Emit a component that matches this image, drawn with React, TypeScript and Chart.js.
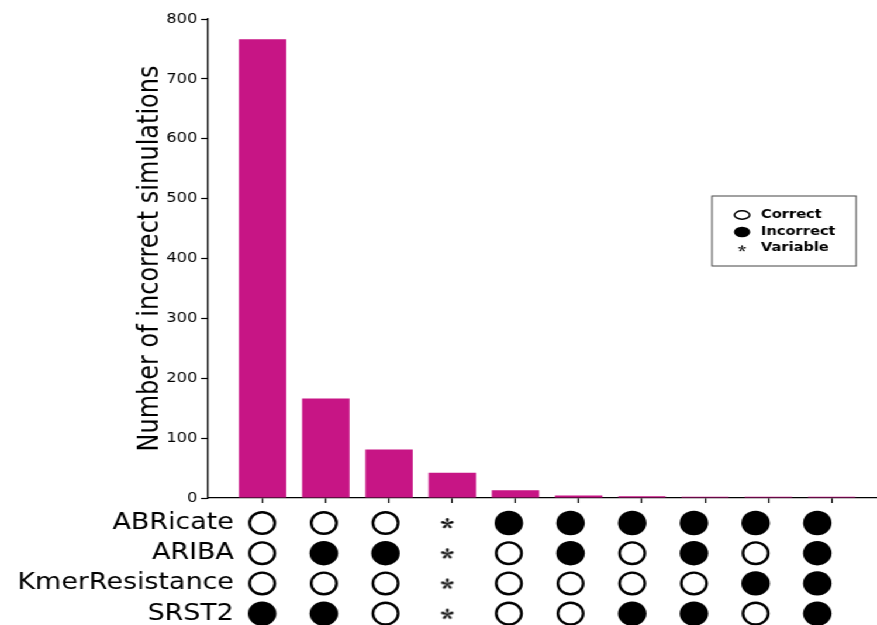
import { useEffect, useRef } from 'react';
import { Chart, registerables } from 'chart.js';

Chart.register(...registerables);

// Incorrect-simulation counts per combination of tool outcomes
const counts = [766, 166, 81, 42, 13, 4, 3, 2, 2, 2];
const yTicks = [0, 100, 200, 300, 400, 500, 600, 700, 800];

// Outcome of each tool per combination: C = correct, I = incorrect, V = variable
const tools = ['ABRicate', 'ARIBA', 'KmerResistance', 'SRST2'];
const abricateCalls = ['C', 'C', 'C', 'V', 'I', 'I', 'I', 'I', 'I', 'I'];
const aribaCalls = ['C', 'I', 'I', 'V', 'C', 'I', 'C', 'I', 'C', 'I'];
const kmerResistanceCalls = ['C', 'C', 'C', 'V', 'C', 'C', 'C', 'C', 'I', 'I'];
const srst2Calls = ['I', 'I', 'C', 'V', 'C', 'C', 'I', 'I', 'C', 'I'];
const keyLabels = ['Correct', 'Incorrect', 'Variable'];
const keyCodes = ['C', 'I', 'V'];

// Drawing surface (rendered narrow, widened with a horizontal scale)
const W = 750;
const H = 625;
const STRETCH = 877 / W;
const FONT = '"DejaVu Sans", "Liberation Sans", sans-serif';

const AXIS_X = 177.9; // y-axis line
const PLOT_BOTTOM = 498;
const X_MIN = -0.863;
const X_MAX = 9.718;
const COL_W = (W - AXIS_X) / (X_MAX - X_MIN);

// Outcome grid below the bars: canvas placement and its plotting band
const GRID_CANVAS_TOP = 470;
const GRID_CANVAS_H = 200;
const GRID_PAD = 30;
const GRID_AREA_H = GRID_CANVAS_H - 2 * GRID_PAD;
const ROW0 = 23; // first row, measured from the top of the plotting band
const ROW_GAP = 30.2;
const GRID_LEFT = 210;
const GRID_X_MIN = X_MIN + (GRID_LEFT - AXIS_X) / COL_W;

// Key box
const KEY_X = 608.9;
const KEY_Y = 196;
const KEY_W = 123.2;
const KEY_H = 70;
const KEY_MARK_X = 634.6;
const KEY_TEXT_X = 650.8;
const KEY_ROWS = [215, 232, 248];

function drawAsterisk(ctx: CanvasRenderingContext2D, cx: number, cy: number, len: number) {
  ctx.save();
  ctx.translate(cx, cy);
  ctx.fillStyle = '#000';
  for (let k = 0; k < 5; k++) {
    const a = -Math.PI / 2 + (k * 2 * Math.PI) / 5;
    ctx.save();
    ctx.rotate(a);
    ctx.beginPath();
    ctx.moveTo(0, 0);
    ctx.quadraticCurveTo(len * 0.35, -len * 0.2, len * 0.72, -len * 0.2);
    ctx.arc(len * 0.72, 0, len * 0.2, -Math.PI / 2, Math.PI / 2);
    ctx.quadraticCurveTo(len * 0.35, len * 0.2, 0, 0);
    ctx.fill();
    ctx.restore();
  }
  ctx.beginPath();
  ctx.arc(0, 0, len * 0.15, 0, Math.PI * 2);
  ctx.fill();
  ctx.restore();
}

function asteriskImage(len: number): HTMLCanvasElement {
  const size = Math.ceil(len * 2 + 4);
  const c = document.createElement('canvas');
  c.width = size;
  c.height = size;
  const g = c.getContext('2d');
  if (g) drawAsterisk(g, size / 2, size / 2 + len * 0.1, len);
  return c;
}

function pointsFor(code: string) {
  const rows = [abricateCalls, aribaCalls, kmerResistanceCalls, srst2Calls];
  const pts: { x: number; y: number }[] = [];
  rows.forEach((row, k) =>
    row.forEach((c, i) => {
      if (c === code) pts.push({ x: i, y: k });
    })
  );
  return pts;
}

const keyPlugin = {
  id: 'outcomeKey',
  afterDraw(chart: Chart) {
    const ctx = chart.ctx;
    ctx.save();
    ctx.fillStyle = '#fff';
    ctx.fillRect(KEY_X, KEY_Y, KEY_W, KEY_H);
    ctx.strokeStyle = '#444';
    ctx.lineWidth = 1;
    ctx.strokeRect(KEY_X, KEY_Y, KEY_W, KEY_H);
    keyLabels.forEach((label, i) => {
      const y = KEY_ROWS[i];
      const code = keyCodes[i];
      if (code === 'C') {
        ctx.beginPath();
        ctx.ellipse(KEY_MARK_X, y, 6.5, 4.2, 0, 0, Math.PI * 2);
        ctx.fillStyle = '#fff';
        ctx.fill();
        ctx.lineWidth = 1.5;
        ctx.strokeStyle = '#000';
        ctx.stroke();
      } else if (code === 'I') {
        ctx.beginPath();
        ctx.ellipse(KEY_MARK_X, y, 7, 5.3, 0, 0, Math.PI * 2);
        ctx.fillStyle = '#000';
        ctx.fill();
      } else {
        drawAsterisk(ctx, KEY_MARK_X, y + 0.5, 3.6);
      }
      ctx.fillStyle = '#000';
      ctx.font = `bold 12.5px ${FONT}`;
      ctx.textAlign = 'left';
      ctx.textBaseline = 'middle';
      ctx.fillText(label, KEY_TEXT_X, y);
    });
    ctx.restore();
  },
};

export default function App() {
  const mainRef = useRef<HTMLCanvasElement>(null);
  const gridRef = useRef<HTMLCanvasElement>(null);

  useEffect(() => {
    if (!mainRef.current || !gridRef.current) return;

    const barChart = new Chart(mainRef.current, {
      type: 'bar',
      data: {
        datasets: [
          {
            label: 'Number of incorrect simulations',
            data: counts.map((v, i) => ({ x: i, y: v })),
            backgroundColor: '#C71585',
            borderWidth: 0,
            barPercentage: 0.75,
            categoryPercentage: 1,
          },
        ],
      },
      options: {
        responsive: false,
        animation: false,
        events: [],
        layout: { padding: { left: 110, top: 19, right: 0, bottom: 0 } },
        plugins: { legend: { display: false }, tooltip: { enabled: false } },
        scales: {
          x: {
            type: 'linear',
            min: X_MIN,
            max: X_MAX,
            offset: false,
            afterBuildTicks: (s: any) => {
              s.ticks = counts.map((_, i) => ({ value: i }));
            },
            afterFit: (s: any) => {
              s.height = H - PLOT_BOTTOM;
            },
            ticks: { display: false },
            grid: {
              display: true,
              offset: false,
              drawOnChartArea: false,
              drawTicks: true,
              tickLength: 5,
              tickColor: '#000',
              tickWidth: 1.2,
              color: '#000',
            },
            border: { display: true, color: '#000', width: 1.3 },
          },
          y: {
            type: 'linear',
            min: 0,
            max: 800,
            afterBuildTicks: (s: any) => {
              s.ticks = yTicks.map((v) => ({ value: v }));
            },
            afterFit: (s: any) => {
              s.width = AXIS_X - 110;
            },
            ticks: { font: { family: FONT, size: 14 }, color: '#000', padding: 3 },
            grid: {
              display: true,
              drawOnChartArea: false,
              drawTicks: true,
              tickLength: 6,
              tickColor: '#000',
              tickWidth: 1.2,
              color: '#000',
            },
            border: { display: true, color: '#000', width: 1.3 },
            title: {
              display: true,
              text: 'Number of incorrect simulations',
              font: { family: FONT, size: 24 },
              color: '#000',
              padding: { top: 4, bottom: 4 },
            },
          },
        },
      },
      plugins: [keyPlugin],
    } as any);

    const star = asteriskImage(6);
    const rowMin = -ROW0 / ROW_GAP;
    const rowMax = rowMin + GRID_AREA_H / ROW_GAP;

    const gridChart = new Chart(gridRef.current, {
      type: 'scatter',
      data: {
        datasets: [
          {
            label: keyLabels[0],
            data: pointsFor('C'),
            pointStyle: 'circle',
            pointRadius: 10.8,
            pointBorderWidth: 2.4,
            pointBackgroundColor: '#fff',
            pointBorderColor: '#000',
            clip: false,
          },
          {
            label: keyLabels[1],
            data: pointsFor('I'),
            pointStyle: 'circle',
            pointRadius: 12.2,
            pointBorderWidth: 0,
            pointBackgroundColor: '#000',
            pointBorderColor: '#000',
            clip: false,
          },
          {
            label: keyLabels[2],
            data: pointsFor('V'),
            pointStyle: star,
            pointRadius: 6,
            clip: false,
          },
        ],
      },
      options: {
        responsive: false,
        animation: false,
        events: [],
        layout: { padding: { top: GRID_PAD, bottom: GRID_PAD, left: 0, right: 0 } },
        plugins: { legend: { display: false }, tooltip: { enabled: false } },
        scales: {
          x: { type: 'linear', display: false, min: GRID_X_MIN, max: X_MAX },
          y: {
            type: 'linear',
            reverse: true,
            min: rowMin,
            max: rowMax,
            afterBuildTicks: (s: any) => {
              s.ticks = tools.map((_, k) => ({ value: k }));
            },
            afterFit: (s: any) => {
              s.width = GRID_LEFT;
            },
            ticks: {
              autoSkip: false,
              callback: (v: any) => tools[Math.round(Number(v))],
              font: { family: FONT, size: 23 },
              color: '#000',
              padding: 10,
            },
            grid: { display: false, drawTicks: false },
            border: { display: false },
          },
        },
      },
    } as any);

    return () => {
      barChart.destroy();
      gridChart.destroy();
    };
  }, []);

  return (
    <div
      style={{
        position: 'fixed',
        left: 0,
        top: 0,
        width: 877,
        height: 625,
        overflow: 'hidden',
        background: '#fff',
      }}
    >
      <div
        style={{
          position: 'absolute',
          left: 0,
          top: 0,
          width: W,
          height: H,
          transform: `scaleX(${STRETCH})`,
          transformOrigin: '0 0',
        }}
      >
        <canvas ref={mainRef} width={W} height={H} style={{ position: 'absolute', left: 0, top: 0 }} />
        <canvas
          ref={gridRef}
          width={W}
          height={GRID_CANVAS_H}
          style={{ position: 'absolute', left: 0, top: GRID_CANVAS_TOP }}
        />
      </div>
    </div>
  );
}
